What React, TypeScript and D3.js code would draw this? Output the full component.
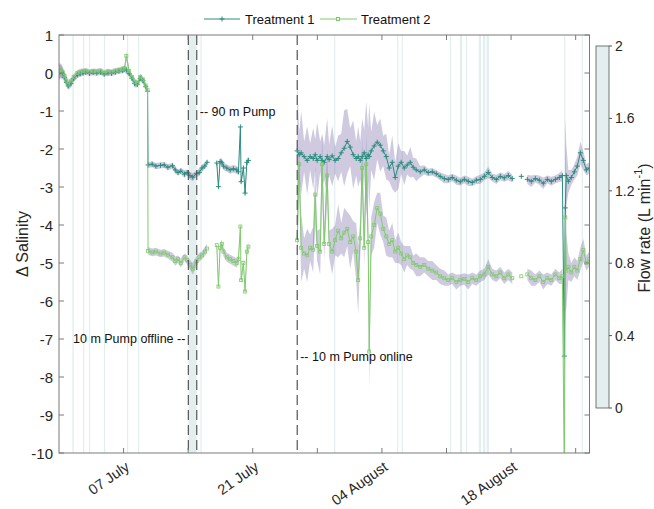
import { useEffect, useRef } from 'react';
import * as d3 from 'd3';

// Days are counted from 30 June, 00:00
const startDate = new Date(2021, 5, 30);
const lastDay = 57.5;

// Sample times (NaN = gap in the record)
const days = [
  // before the drop
  0, 0.2, 0.4, 0.6, 0.8, 1.0, 1.3, 1.6, 2.0, 2.3, 2.6, 2.9, 3.3, 3.7, 4.1, 4.5, 4.9, 5.3, 5.7, 6.1, 6.5, 6.9, 7.1, 7.3, 7.6, 7.9, 8.2, 8.5, 8.8, 9.1, 9.4, 9.6,
  // treatment period 1
  9.65, 10.1, 10.5, 11.0, 11.4, 11.8, 12.3, 12.6, 12.9, 13.2, 13.6, 13.9, 14.2, 14.5, 14.9, 15.2, 15.5, 15.8, 16.05,
  NaN,
  17.1, 17.28, 17.46, 17.65, 17.82, 18.19, 18.55, 18.9, 19.27, 19.45, 19.66, 19.74, 19.99, 20.17, 20.36, 20.53,
  NaN,
  // after the 10 m pump came back
  25.81, 26.03, 26.25, 26.57, 26.9, 27.22, 27.55, 27.77, 27.98, 28.31,
  28.52, 28.74, 29.07, 29.28, 29.61, 29.93, 30.26, 30.59, 30.91, 31.24,
  31.56, 31.89, 32.21, 32.43, 32.65, 32.86, 33.08, 33.3, 33.51, 33.62,
  33.84, 34.16, 34.49, 34.82, 35.14, 35.47, 35.79, 36.12, 36.44, 36.77,
  37.09, 37.42, 37.74, 38.07, 38.39, 38.72, 39.15, 39.59, 40.02, 40.46,
  40.89, 41.32, 41.76, 42.19, 42.62, 43.06, 43.49, 43.93, 44.36, 44.79,
  45.23, 45.66, 46.1, 46.53, 46.96, 47.4, 47.83, 48.26, 48.7, 49.13,
  NaN, 50.11, NaN,
  50.76, 51.19, 51.63, 52.06, 52.49, 52.93, 53.36, 53.8, 54.23, 54.56,
  54.77, 54.88, 54.99, 55.21, 55.53, 55.86, 56.18, 56.51, 56.83, 57.16,
  57.48,
];

const t1Mean = [
  0.02, 0.04, -0.02, -0.12, -0.25, -0.34, -0.28, -0.15, -0.05, -0.02, 0.0, 0.02, -0.01, 0.01, 0.0, 0.02, -0.03, 0.0, -0.01, 0.02, 0.05, 0.07, 0.1, 0.08, -0.02, -0.14, -0.28, -0.3, -0.14, -0.2, -0.36, -0.48,
  -2.42, -2.4, -2.45, -2.43, -2.42, -2.48, -2.44, -2.55, -2.62, -2.58, -2.66, -2.62, -2.7, -2.74, -2.65, -2.62, -2.5, -2.45, -2.35,
  NaN,
  -2.37, -2.99, -2.33, -2.35, -2.45, -2.5, -2.55, -2.52, -2.55, -2.6, -1.42, -2.86, -2.5, -3.16, -2.35, -2.3,
  NaN,
  -2.05, -2.15, -2.1, -2.2, -2.3, -2.2, -2.25, -2.15, -2.3, -2.2,
  -2.3, -2.35, -2.2, -2.28, -2.18, -2.3, -2.25, -2.1, -1.98, -1.8,
  -1.95, -2.15, -2.25, -2.2, -2.3, -2.2, -2.1, -2.25, -2.15, -2.2,
  -2.05, -1.92, -1.82, -1.9, -2.05, -2.2, -2.5, -2.35, -2.75, -2.45,
  -2.35, -2.5, -2.42, -2.35, -2.48, -2.55, -2.6, -2.55, -2.62, -2.6,
  -2.65, -2.72, -2.78, -2.8, -2.75, -2.82, -2.86, -2.8, -2.85, -2.88,
  -2.82, -2.8, -2.72, -2.62, -2.75, -2.8, -2.72, -2.76, -2.7, -2.78,
  NaN, -2.72, NaN,
  -2.8, -2.85, -2.78, -2.82, -2.9, -2.8, -2.85, -2.8, -2.75, -2.7,
  -7.45, -3.55, -2.7, -2.85, -2.75, -2.6, -2.45, -2.1, -2.3, -2.55,
  -2.5,
];

const t1Sd = [
  0.2, 0.18, 0.15, 0.12, 0.12, 0.1, 0.1, 0.08, 0.08, 0.08, 0.07, 0.07, 0.07, 0.07, 0.07, 0.07, 0.07, 0.07, 0.07, 0.07, 0.07, 0.08, 0.08, 0.1, 0.08, 0.08, 0.1, 0.08, 0.08, 0.08, 0.08, 0.08,
  0.08, 0.08, 0.08, 0.08, 0.08, 0.08, 0.08, 0.1, 0.08, 0.08, 0.1, 0.08, 0.1, 0.1, 0.08, 0.1, 0.1, 0.08, 0.08,
  NaN,
  0.1, 0.1, 0.1, 0.1, 0.1, 0.1, 0.1, 0.1, 0.1, 0.1, 0.1, 0.1, 0.1, 0.1, 0.1, 0.1,
  NaN,
  1.9, 0.6, 1.1, 0.4, 0.9, 0.35, 0.8, 0.4, 1.0, 0.4,
  0.7, 0.45, 1.0, 0.4, 0.8, 0.35, 0.6, 0.5, 1.0, 0.85,
  0.5, 0.9, 0.45, 0.8, 0.5, 1.0, 0.6, 1.5, 0.7, 1.4,
  0.5, 0.9, 0.45, 0.7, 0.4, 0.6, 0.35, 0.7, 0.4, 0.6,
  0.3, 0.45, 0.25, 0.4, 0.25, 0.3, 0.15, 0.12, 0.1, 0.1,
  0.1, 0.1, 0.12, 0.1, 0.1, 0.12, 0.1, 0.1, 0.12, 0.1,
  0.1, 0.12, 0.1, 0.15, 0.1, 0.12, 0.1, 0.1, 0.12, 0.1,
  NaN, 0.1, NaN,
  0.12, 0.15, 0.1, 0.12, 0.15, 0.1, 0.12, 0.1, 0.12, 0.15,
  1.0, 2.4, 0.8, 0.3, 0.2, 0.2, 0.25, 0.3, 0.25, 0.15,
  0.15,
];

const t2Mean = [
  0.05, 0.07, 0.02, -0.08, -0.2, -0.3, -0.22, -0.1, 0.0, 0.03, 0.05, 0.06, 0.03, 0.05, 0.04, 0.06, 0.01, 0.04, 0.03, 0.06, 0.08, 0.1, 0.12, 0.45, 0.05, -0.1, -0.24, -0.27, -0.1, -0.17, -0.33, -0.45,
  -4.68, -4.72, -4.7, -4.75, -4.73, -4.78, -4.85, -4.95, -4.9, -5.0, -4.85, -4.92, -5.05, -5.15, -4.95, -4.85, -4.8, -4.7, -4.62,
  NaN,
  -4.53, -5.62, -4.6, -4.5, -4.7, -4.85, -4.9, -4.95, -5.0, -4.9, -4.04, -5.45, -5.0, -5.75, -4.7, -4.57,
  NaN,
  -4.4, -2.4, -4.6, -4.75, -4.8, -4.6, -4.65, -3.2, -4.55, -4.7,
  -2.4, -4.5, -2.7, -4.5, -4.7, -4.4, -4.15, -4.35, -4.2, -4.1,
  -4.45, -4.3, -4.7, -5.45, -4.35, -2.5, -4.6, -2.4, -4.45, -7.33,
  -4.3, -4.0, -3.55, -3.7, -4.1, -4.3, -4.5, -4.4, -4.7, -4.6,
  -4.75, -4.9, -4.8, -4.85, -5.0, -5.05, -5.1, -5.05, -5.15, -5.2,
  -5.25, -5.35, -5.4, -5.45, -5.4, -5.5, -5.45, -5.42, -5.5, -5.4,
  -5.45, -5.35, -5.3, -5.1, -5.3, -5.35, -5.25, -5.4, -5.3, -5.4,
  NaN, -5.35, NaN,
  -5.3, -5.4, -5.45, -5.35, -5.5, -5.4, -5.45, -5.3, -5.4, -5.35,
  -10.5, -3.8, -5.2, -5.1, -5.25, -5.1, -5.2, -4.9, -4.66, -5.0,
  -4.9,
];

const t2Sd = [
  0.2, 0.18, 0.15, 0.12, 0.12, 0.1, 0.1, 0.08, 0.08, 0.08, 0.07, 0.07, 0.07, 0.07, 0.07, 0.07, 0.07, 0.07, 0.07, 0.07, 0.07, 0.08, 0.08, 0.12, 0.08, 0.08, 0.1, 0.08, 0.08, 0.08, 0.08, 0.08,
  0.1, 0.1, 0.1, 0.1, 0.1, 0.1, 0.12, 0.12, 0.1, 0.12, 0.1, 0.12, 0.12, 0.15, 0.12, 0.12, 0.1, 0.12, 0.12,
  NaN,
  0.12, 0.12, 0.12, 0.12, 0.12, 0.12, 0.12, 0.12, 0.12, 0.12, 0.12, 0.12, 0.12, 0.12, 0.12, 0.12,
  NaN,
  1.2, 0.5, 0.9, 0.4, 0.7, 0.35, 0.6, 0.8, 0.4, 0.6,
  0.8, 0.4, 0.7, 0.35, 0.6, 0.4, 0.7, 0.4, 0.65, 0.45,
  0.7, 0.4, 0.75, 0.9, 0.5, 0.8, 0.45, 0.8, 0.6, 1.0,
  0.5, 0.6, 0.4, 0.55, 0.35, 0.5, 0.35, 0.45, 0.3, 0.4,
  0.3, 0.35, 0.25, 0.3, 0.2, 0.3, 0.25, 0.2, 0.2, 0.25,
  0.2, 0.2, 0.2, 0.15, 0.15, 0.2, 0.15, 0.15, 0.2, 0.15,
  0.15, 0.15, 0.15, 0.2, 0.15, 0.15, 0.15, 0.15, 0.15, 0.15,
  NaN, 0.15, NaN,
  0.15, 0.2, 0.15, 0.15, 0.2, 0.15, 0.15, 0.15, 0.15, 0.2,
  0.5, 2.5, 1.0, 0.35, 0.25, 0.25, 0.25, 0.3, 0.3, 0.2,
  0.2,
];

// Periods with pump flow (start day, end day)
const flowPeriods = [
  [1.45, 1.6], [2.6, 2.72], [3.25, 3.36], [4.87, 4.98], [7.37, 7.48], [8.56, 8.67],
  [14.02, 14.93], [15.33, 15.44], [29.82, 29.93], [36.65, 36.76], [37.13, 37.24],
  [42.37, 42.48], [43.45, 43.7], [44.1, 44.21], [45.5, 45.75], [45.95, 46.2],
  [46.35, 46.6], [54.76, 54.87], [56.65, 56.76],
];

// Pump events (dashed lines)
const pumpEvents = [14.02, 14.93, 25.82];

const yTicks = [1, 0, -1, -2, -3, -4, -5, -6, -7, -8, -9, -10];
const xTickDays = [7, 14, 21, 28, 35, 42, 49, 56];
const flowTicks = [0, 0.4, 0.8, 1.2, 1.6, 2];
const seriesNames = ['Treatment 1', 'Treatment 2'];

const colT1 = '#2b8c7f';
const colT2 = '#7fcb6c';
const colBand = '#6b5b9e';
const colFlow = '#e3eeee';
const font = '"Liberation Sans", Arial, Helvetica, sans-serif';

const toDate = (d: number) => new Date(startDate.getTime() + d * 86400000);

const App = () => {
  const svgRef = useRef<SVGSVGElement | null>(null);

  useEffect(() => {
    const width = 654;
    const height = 509;
    const left = 59;
    const right = 589.5;
    const top = 35;
    const bottom = 453;

    const x = d3.scaleTime().domain([toDate(0), toDate(lastDay)]).range([left, right]);
    const y = d3.scaleLinear().domain([-10, 1]).range([bottom, top]);
    const yFlow = d3.scaleLinear().domain([0, 2]).range([408, 46]);

    const svg = d3.select(svgRef.current)
      .attr('width', width)
      .attr('height', height)
      .attr('viewBox', [0, 0, width, height])
      .style('font-family', font);
    svg.selectAll('*').remove();

    svg.append('defs').append('clipPath').attr('id', 'plotClip')
      .append('rect')
      .attr('x', left).attr('y', top)
      .attr('width', right - left).attr('height', bottom - top);

    const plot = svg.append('g').attr('clip-path', 'url(#plotClip)');

    // flow periods in the background
    plot.selectAll('rect.flow')
      .data(flowPeriods)
      .join('rect')
      .attr('class', 'flow')
      .attr('x', d => x(toDate(d[0])))
      .attr('width', d => Math.max(1.2, x(toDate(d[1])) - x(toDate(d[0]))))
      .attr('y', top)
      .attr('height', bottom - top)
      .attr('fill', colFlow);

    const idx = d3.range(days.length);
    const px = (i: number) => x(toDate(days[i]));

    // standard deviation bands
    const band = (mean: number[], sd: number[]) => d3.area<number>()
      .defined(i => !isNaN(mean[i]))
      .x(px)
      .y0(i => y(mean[i] - sd[i]))
      .y1(i => y(mean[i] + sd[i]));

    plot.append('path').attr('d', band(t1Mean, t1Sd)(idx)).attr('fill', colBand).attr('fill-opacity', 0.32);
    plot.append('path').attr('d', band(t2Mean, t2Sd)(idx)).attr('fill', colBand).attr('fill-opacity', 0.32);

    const line = (mean: number[]) => d3.line<number>()
      .defined(i => !isNaN(mean[i]))
      .x(px)
      .y(i => y(mean[i]));

    // Treatment 1: line with + markers
    plot.append('path').attr('d', line(t1Mean)(idx)).attr('fill', 'none').attr('stroke', colT1).attr('stroke-width', 1);
    plot.append('path')
      .attr('d', idx.filter(i => !isNaN(t1Mean[i])).map(i => {
        const cx = px(i), cy = y(t1Mean[i]);
        return `M${cx - 2.5},${cy}H${cx + 2.5}M${cx},${cy - 2.5}V${cy + 2.5}`;
      }).join(''))
      .attr('stroke', colT1).attr('stroke-width', 1).attr('fill', 'none');

    // Treatment 2: line with square markers
    plot.append('path').attr('d', line(t2Mean)(idx)).attr('fill', 'none').attr('stroke', colT2).attr('stroke-width', 1);
    plot.selectAll('rect.sq')
      .data(idx.filter(i => !isNaN(t2Mean[i])))
      .join('rect')
      .attr('class', 'sq')
      .attr('x', i => px(i) - 1.5)
      .attr('y', i => y(t2Mean[i]) - 1.5)
      .attr('width', 3).attr('height', 3)
      .attr('fill', 'none').attr('stroke', colT2).attr('stroke-width', 0.8);

    // pump events
    svg.selectAll('line.pump')
      .data(pumpEvents)
      .join('line')
      .attr('class', 'pump')
      .attr('x1', d => x(toDate(d))).attr('x2', d => x(toDate(d)))
      .attr('y1', top).attr('y2', bottom)
      .attr('stroke', '#555').attr('stroke-width', 1.2)
      .attr('stroke-dasharray', '10,5');

    const note = (txt: string, d: number, v: number, dx: number, anchor: string) =>
      svg.append('text').attr('x', x(toDate(d)) + dx).attr('y', y(v))
        .attr('dominant-baseline', 'central').attr('text-anchor', anchor)
        .attr('font-size', 12.5).attr('fill', '#111').text(txt);
    note('-- 90 m Pump', pumpEvents[1], -1.03, 3, 'start');
    note('10 m Pump offline --', pumpEvents[0], -7.0, -3, 'end');
    note('-- 10 m Pump online', pumpEvents[2], -7.47, 3, 'start');

    // axes box and ticks
    const axisCol = '#7a7a7a';
    svg.append('rect')
      .attr('x', left).attr('y', top).attr('width', right - left).attr('height', bottom - top)
      .attr('fill', 'none').attr('stroke', axisCol).attr('stroke-width', 1);

    const tickLen = 5;
    yTicks.forEach(v => {
      svg.append('line').attr('x1', left).attr('x2', left + tickLen).attr('y1', y(v)).attr('y2', y(v)).attr('stroke', axisCol);
      svg.append('line').attr('x1', right).attr('x2', right - tickLen).attr('y1', y(v)).attr('y2', y(v)).attr('stroke', axisCol);
      svg.append('text').attr('x', left - 6).attr('y', y(v))
        .attr('text-anchor', 'end').attr('dominant-baseline', 'central')
        .attr('font-size', 15).attr('fill', '#262626').text(v);
    });

    const fmt = d3.timeFormat('%d %B');
    xTickDays.forEach((d, i) => {
      const tx = x(toDate(d));
      svg.append('line').attr('x1', tx).attr('x2', tx).attr('y1', bottom).attr('y2', bottom - tickLen).attr('stroke', axisCol);
      svg.append('line').attr('x1', tx).attr('x2', tx).attr('y1', top).attr('y2', top + tickLen).attr('stroke', axisCol);
      if (i % 2 === 0) {
        svg.append('text')
          .attr('transform', `translate(${tx + 4},${bottom + 12}) rotate(-35)`)
          .attr('text-anchor', 'end').attr('dominant-baseline', 'central')
          .attr('font-size', 14.5).attr('fill', '#262626').text(fmt(toDate(d)));
      }
    });

    svg.append('text')
      .attr('transform', `translate(22,${(top + bottom) / 2}) rotate(-90)`)
      .attr('text-anchor', 'middle').attr('dominant-baseline', 'central')
      .attr('font-size', 16).attr('fill', '#262626').text('\u0394 Salinity');

    // colour bar for flow rate
    svg.append('rect')
      .attr('x', 596).attr('y', yFlow(2)).attr('width', 13).attr('height', yFlow(0) - yFlow(2))
      .attr('fill', colFlow).attr('stroke', '#555').attr('stroke-width', 0.8);
    flowTicks.forEach(v => {
      svg.append('line').attr('x1', 609).attr('x2', 612).attr('y1', yFlow(v)).attr('y2', yFlow(v)).attr('stroke', '#555');
      svg.append('text').attr('x', 615).attr('y', yFlow(v))
        .attr('dominant-baseline', 'central').attr('font-size', 14).attr('fill', '#262626').text(v);
    });
    const flowLabel = svg.append('text')
      .attr('transform', `translate(644,228) rotate(-90)`)
      .attr('text-anchor', 'middle').attr('dominant-baseline', 'central')
      .attr('font-size', 16).attr('fill', '#262626');
    flowLabel.append('tspan').text('Flow rate (L min');
    flowLabel.append('tspan').attr('baseline-shift', 'super').attr('font-size', 11).text('-1');
    flowLabel.append('tspan').text(')');

    // legend
    const lg = svg.append('g').attr('font-size', 13).attr('fill', '#111');
    lg.append('line').attr('x1', 204).attr('x2', 240).attr('y1', 19).attr('y2', 19).attr('stroke', colT1);
    lg.append('path').attr('d', 'M219.5,19H224.5M222,16.5V21.5').attr('stroke', colT1);
    lg.append('text').attr('x', 245).attr('y', 19).attr('dominant-baseline', 'central').text(seriesNames[0]);
    lg.append('line').attr('x1', 320).attr('x2', 357).attr('y1', 19).attr('y2', 19).attr('stroke', colT2);
    lg.append('rect').attr('x', 336.5).attr('y', 17.5).attr('width', 3).attr('height', 3).attr('fill', 'white').attr('stroke', colT2);
    lg.append('text').attr('x', 361).attr('y', 19).attr('dominant-baseline', 'central').text(seriesNames[1]);
  }, []);

  return (
    <div style={{ position: 'absolute', left: 0, top: 0 }}>
      <svg ref={svgRef}></svg>
    </div>
  );
};

export default App;
